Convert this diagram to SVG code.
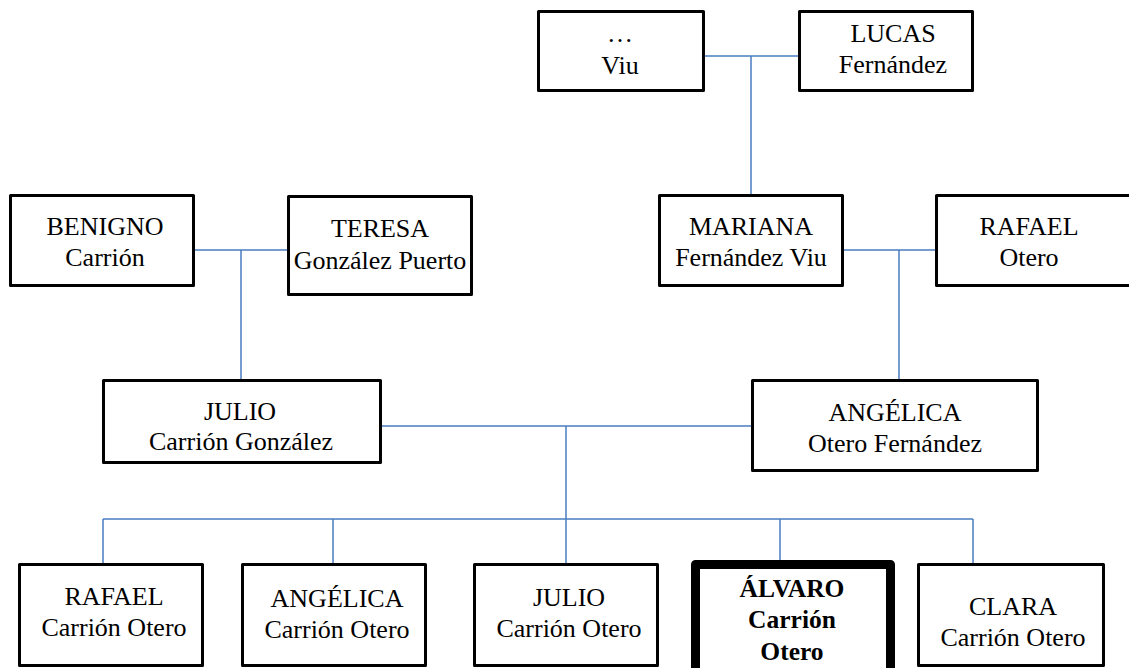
<svg xmlns="http://www.w3.org/2000/svg" width="1129" height="668" viewBox="0 0 1129 668">
<style>
.box{fill:#fff;stroke:#000;stroke-width:3;stroke-linejoin:round}
.sel{fill:#fff;stroke:#000;stroke-width:9;stroke-linejoin:round}
.t{font-family:"Liberation Serif","Times New Roman",serif;font-size:26px;fill:#000;text-anchor:middle}
.b{font-weight:bold;font-size:25.5px}
.c{stroke:#4A7EC0;stroke-width:1.5;fill:none}
</style>
<rect width="1129" height="668" fill="#fff"/>
<g id="connectors">
<path class="c" d="M705,56H798M751,56V194"/>
<path class="c" d="M195,250H287M241,250V379"/>
<path class="c" d="M844,250H936M899,250V379"/>
<path class="c" d="M382,426H751M566,426V519"/>
<path class="c" d="M103,519H973M103,519V563M333,519V563M566,519V563M780,519V560M973,519V563"/>
</g>
<g id="viu"><rect class="box" x="538.5" y="11.5" width="165" height="79"/><text class="t" x="620" y="42">…</text><text class="t" x="620" y="74">Viu</text></g>
<g id="lucas"><rect class="box" x="799.5" y="11.5" width="173" height="79"/><text class="t" x="893" y="42">LUCAS</text><text class="t" x="893" y="73">Fernández</text></g>
<g id="benigno"><rect class="box" x="10.5" y="195.5" width="183" height="90"/><text class="t" x="105" y="235">BENIGNO</text><text class="t" x="105" y="266">Carrión</text></g>
<g id="teresa"><rect class="box" x="288.5" y="196.5" width="183" height="98"/><text class="t" x="380" y="237">TERESA</text><text class="t" x="380" y="269">González Puerto</text></g>
<g id="mariana"><rect class="box" x="659.5" y="195.5" width="183" height="90"/><text class="t" x="751" y="235">MARIANA</text><text class="t" x="751" y="266">Fernández Viu</text></g>
<g id="rafael-otero"><rect class="box" x="936.5" y="195.5" width="200" height="90"/><text class="t" x="1029" y="235">RAFAEL</text><text class="t" x="1029" y="266">Otero</text></g>
<g id="julio-padre"><rect class="box" x="103.5" y="380.5" width="277" height="82"/><text class="t" x="240" y="420">JULIO</text><text class="t" x="241" y="450">Carrión González</text></g>
<g id="angelica-madre"><rect class="box" x="752.5" y="380.5" width="285" height="90"/><text class="t" x="895" y="421">ANGÉLICA</text><text class="t" x="895" y="452">Otero Fernández</text></g>
<g id="rafael-hijo"><rect class="box" x="19.5" y="564.5" width="183" height="101"/><text class="t" x="114" y="605">RAFAEL</text><text class="t" x="114" y="636">Carrión Otero</text></g>
<g id="angelica-hija"><rect class="box" x="242.5" y="564.5" width="183" height="101"/><text class="t" x="337" y="607">ANGÉLICA</text><text class="t" x="337" y="638">Carrión Otero</text></g>
<g id="julio-hijo"><rect class="box" x="474.5" y="564.5" width="183" height="101"/><text class="t" x="569" y="606">JULIO</text><text class="t" x="569" y="637">Carrión Otero</text></g>
<g id="alvaro"><rect class="sel" x="695.5" y="564.5" width="195" height="112"/><text class="t b" x="792" y="597">ÁLVARO</text><text class="t b" x="792" y="628">Carrión</text><text class="t b" x="792" y="660">Otero</text></g>
<g id="clara"><rect class="box" x="918.5" y="564.5" width="185" height="101"/><text class="t" x="1013" y="615">CLARA</text><text class="t" x="1013" y="646">Carrión Otero</text></g>
</svg>
